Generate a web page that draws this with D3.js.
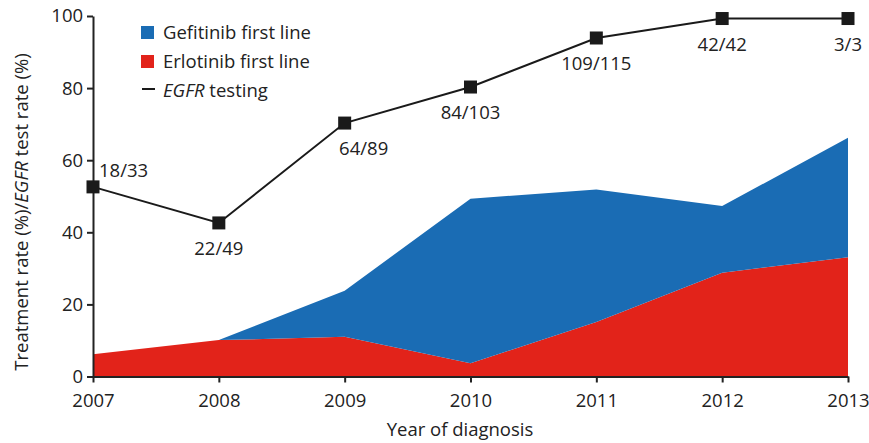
<!DOCTYPE html>
<html><head><meta charset="utf-8">
<script src="https://cdn.jsdelivr.net/npm/d3@7"></script>
<style>body{margin:0;background:#fff}svg{font-family:"Open Sans",sans-serif}</style>
</head><body><svg id="c" width="869" height="443"></svg>
<script>
const years = [2007, 2008, 2009, 2010, 2011, 2012, 2013];
const erlotinib = [6.2, 10.1, 11.0, 3.7, 15.1, 28.8, 33.1];
const gefitinib = [0, 0, 12.8, 45.6, 36.8, 18.5, 33.1];
const egfrTesting = [52.6, 42.6, 70.3, 80.3, 93.9, 99.3, 99.3];
const egfrLabels = ["18/33", "22/49", "64/89", "84/103", "109/115", "42/42", "3/3"];
const yTicks = [0, 20, 40, 60, 80, 100];

const FS = 18.5;
const svg = d3.select("#c");
const x = d3.scaleLinear().domain([2007, 2013]).range([93, 848]);
const y = d3.scaleLinear().domain([0, 100]).range([376.5, 16]);

const rows = years.map((yr, i) => ({yr, e: erlotinib[i], g: gefitinib[i]}));
const stack = d3.stack().keys(["e", "g"])(rows);
const colors = {e: "#e2231a", g: "#1a6cb4"};
const area = d3.area().x(d => x(d.data.yr)).y0(d => y(d[0])).y1(d => y(d[1]));
svg.selectAll("path.area").data(stack).join("path")
  .attr("class", "area").attr("d", area).attr("fill", d => colors[d.key]);

// axes
const ax = svg.append("g").attr("transform", "translate(0,376.5)")
  .call(d3.axisBottom(x).tickValues(years).tickFormat(d3.format("d")).tickSize(6).tickSizeOuter(0));
const ay = svg.append("g").attr("transform", "translate(93,0)")
  .call(d3.axisLeft(y).tickValues(yTicks).tickSize(6).tickSizeOuter(0));
[ax, ay].forEach(g => {
  g.select(".domain").attr("stroke", "#222").attr("stroke-width", 2);
  g.selectAll(".tick line").attr("stroke", "#222").attr("stroke-width", 2);
  g.selectAll(".tick text").attr("font-size", FS).attr("fill", "#222").attr("font-family", "Open Sans");
});
ax.selectAll(".tick text").attr("dy", "1.16em");
ay.selectAll(".tick text").attr("dx", "-0.05em");

// EGFR line
const line = d3.line().x((d, i) => x(years[i])).y(d => y(d));
svg.append("path").attr("d", line(egfrTesting)).attr("fill", "none").attr("stroke", "#1a1a1a").attr("stroke-width", 2);
svg.selectAll("rect.m").data(egfrTesting).join("rect").attr("class", "m")
  .attr("x", (d, i) => x(years[i]) - 6.5).attr("y", d => y(d) - 6.5)
  .attr("width", 13).attr("height", 13).attr("fill", "#1a1a1a");
svg.selectAll("text.lab").data(egfrLabels).join("text").attr("class", "lab")
  .attr("x", (d, i) => x(years[i]) + (i === 0 ? 6 : i === 2 ? 19 : 0))
  .attr("y", (d, i) => y(egfrTesting[i]) + (i === 0 ? -10 : 32))
  .attr("text-anchor", (d, i) => i === 0 ? "start" : "middle")
  .attr("font-size", FS).attr("fill", "#222").text(d => d);

// legend
const leg = svg.append("g").attr("font-size", FS).attr("fill", "#222");
[["Gefitinib first line", "g"], ["Erlotinib first line", "e"]].forEach(([t, k], i) => {
  leg.append("rect").attr("x", 141).attr("y", 26 + i * 29).attr("width", 13).attr("height", 13).attr("fill", colors[k]);
  leg.append("text").attr("x", 163).attr("y", 39 + i * 29).attr("fill", "#222").text(t);
});
leg.append("line").attr("x1", 142).attr("x2", 155).attr("y1", 89).attr("y2", 89).attr("stroke", "#1a1a1a").attr("stroke-width", 2);
const lt = leg.append("text").attr("x", 163).attr("y", 96.5).attr("fill", "#222");
lt.append("tspan").attr("font-style", "italic").text("EGFR");
lt.append("tspan").text(" testing");

// axis titles
svg.append("text").attr("x", 460).attr("y", 436).attr("text-anchor", "middle").attr("font-size", FS).attr("fill", "#222").text("Year of diagnosis");
const yt = svg.append("text").attr("transform", "translate(28,212) rotate(-90)").attr("text-anchor", "middle").attr("font-size", FS).attr("fill", "#222");
yt.append("tspan").text("Treatment rate (%)/");
yt.append("tspan").attr("font-style", "italic").text("EGFR");
yt.append("tspan").text(" test rate (%)");
</script></body></html>
